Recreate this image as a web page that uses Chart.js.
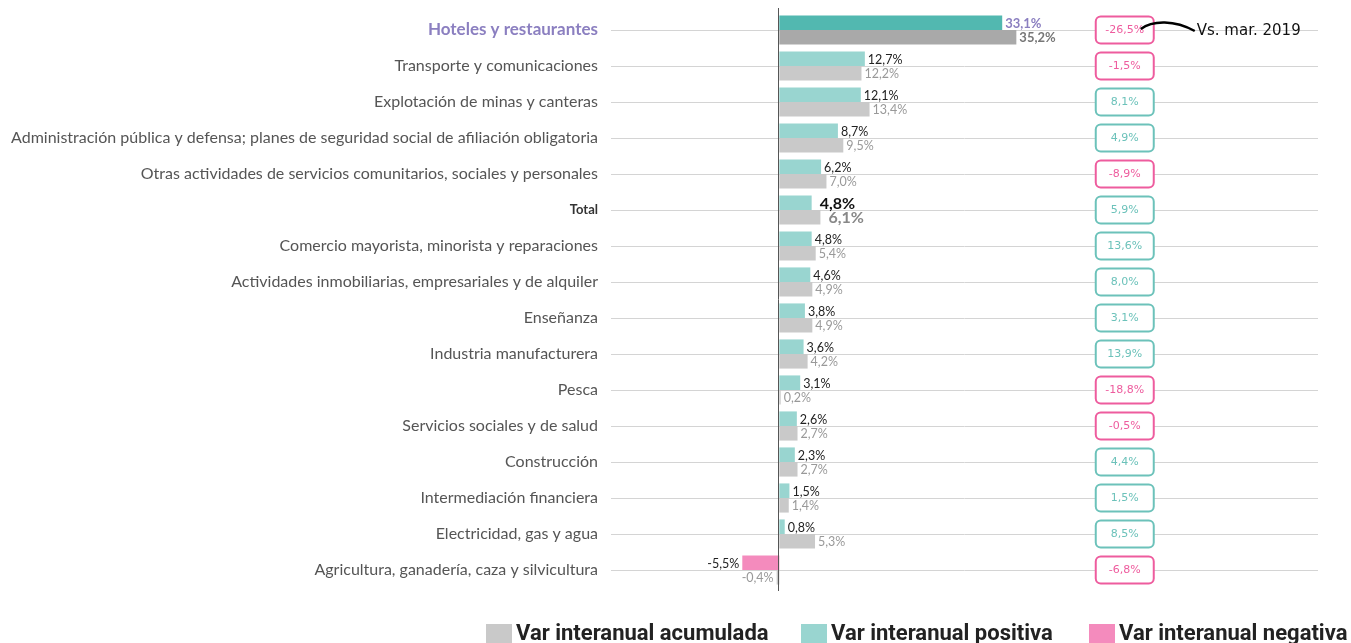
<!DOCTYPE html>
<html>
<head>
<meta charset="utf-8">
<script src="https://cdn.jsdelivr.net/npm/chart.js@4"></script>
<style>
  html, body { margin: 0; padding: 0; background: #fff; overflow: hidden; }
  #wrap { width: 1351px; height: 643px; }
</style>
</head>
<body>
<div id="wrap"><canvas id="chart"></canvas></div>
<script>
// data
const categories = [
  'Hoteles y restaurantes',
  'Transporte y comunicaciones',
  'Explotación de minas y canteras',
  'Administración pública y defensa; planes de seguridad social de afiliación obligatoria',
  'Otras actividades de servicios comunitarios, sociales y personales',
  'Total',
  'Comercio mayorista, minorista y reparaciones',
  'Actividades inmobiliarias, empresariales y de alquiler',
  'Enseñanza',
  'Industria manufacturera',
  'Pesca',
  'Servicios sociales y de salud',
  'Construcción',
  'Intermediación financiera',
  'Electricidad, gas y agua',
  'Agricultura, ganadería, caza y silvicultura'
];
const varInteranual = [33.1, 12.7, 12.1, 8.7, 6.2, 4.8, 4.8, 4.6, 3.8, 3.6, 3.1, 2.6, 2.3, 1.5, 0.8, -5.5];
const varAcumulada = [35.2, 12.2, 13.4, 9.5, 7.0, 6.1, 5.4, 4.9, 4.9, 4.2, 0.2, 2.7, 2.7, 1.4, 5.3, -0.4];
const vsMar2019 = [-26.5, -1.5, 8.1, 4.9, -8.9, 5.9, 13.6, 8.0, 3.1, 13.9, -18.8, -0.5, 4.4, 1.5, 8.5, -6.8];
const legendLabels = ['Var interanual acumulada', 'Var interanual positiva', 'Var interanual negativa'];
const annotationText = 'Vs. mar. 2019';

const TEAL = '#99d5d0', TEAL_DARK = '#52b8b0', GRAY = '#c9c9c9', GRAY_DARK = '#a9a9a9', PINK = '#f48bbd';
const BADGE_PINK = '#ee5c9e', BADGE_TEAL = '#6cc2ba';
const HIGHLIGHT = 0, TOTAL = 5;

const fmt = v => v.toFixed(1).replace('.', ',') + '%';

const labelsPlugin = {
  id: 'valueLabels',
  afterDatasetsDraw(chart) {
    const ctx = chart.ctx;
    ctx.save();
    ctx.textBaseline = 'middle';
    chart.data.datasets.forEach((ds, di) => {
      chart.getDatasetMeta(di).data.forEach((bar, i) => {
        const v = ds.data[i];
        let font = '12.5px Lato', color = di === 0 ? '#222' : '#999', gap = 3;
        if (i === HIGHLIGHT) { font = 'bold 13px Lato'; color = di === 0 ? '#8b7fc0' : '#777'; }
        if (i === TOTAL) { font = 'bold 16px Lato'; color = di === 0 ? '#111' : '#888'; gap = 8; }
        ctx.font = font;
        ctx.fillStyle = color;
        if (v >= 0) { ctx.textAlign = 'left'; ctx.fillText(fmt(v), bar.x + gap, bar.y + 1); }
        else { ctx.textAlign = 'right'; ctx.fillText(fmt(v), bar.x - gap, bar.y + 1); }
      });
    });
    ctx.restore();
  },
  afterDraw(chart) {
    const ctx = chart.ctx, x = chart.scales.x, y = chart.scales.y, area = chart.chartArea;
    ctx.save();
    // zero line
    const x0 = Math.round(x.getPixelForValue(0)) - 0.5;
    ctx.strokeStyle = '#555';
    ctx.lineWidth = 1;
    ctx.beginPath(); ctx.moveTo(x0, area.top - 4); ctx.lineTo(x0, area.bottom + 3); ctx.stroke();

    // badges vs mar 2019
    const bx = x.getPixelForValue(51.3);
    ctx.font = '11px "DejaVu Sans"';
    ctx.textAlign = 'center';
    ctx.textBaseline = 'middle';
    vsMar2019.forEach((v, i) => {
      const cy = y.getPixelForValue(i);
      const col = v < 0 ? BADGE_PINK : BADGE_TEAL;
      const w = 58, h = 27;
      ctx.beginPath();
      ctx.roundRect(bx - w / 2, cy - h / 2, w, h, 5);
      ctx.fillStyle = '#fff';
      ctx.fill();
      ctx.lineWidth = 2;
      ctx.strokeStyle = col;
      ctx.stroke();
      ctx.fillStyle = col;
      ctx.fillText(fmt(v), bx, cy + 0.5);
    });

    // annotation
    const ay = y.getPixelForValue(0);
    ctx.strokeStyle = '#000';
    ctx.lineWidth = 2.5;
    ctx.beginPath();
    ctx.moveTo(bx + 16, ay - 1);
    ctx.bezierCurveTo(bx + 28, ay - 10, bx + 50, ay - 10, bx + 70, ay + 1);
    ctx.stroke();
    ctx.fillStyle = '#111';
    ctx.font = '15px "DejaVu Sans"';
    ctx.textAlign = 'left';
    ctx.fillText(annotationText, bx + 72, ay + 1);

    // legend
    const legendColors = [GRAY, TEAL, PINK];
    const legendX = [486, 801, 1089];
    ctx.font = 'bold 22px Roboto';
    ctx.textBaseline = 'middle';
    legendLabels.forEach((t, i) => {
      ctx.fillStyle = legendColors[i];
      ctx.fillRect(legendX[i], 624, 26, 19);
      ctx.fillStyle = '#222';
      ctx.fillText(t, legendX[i] + 30, 634);
    });
    ctx.restore();
  }
};

new Chart(document.getElementById('chart'), {
  type: 'bar',
  data: {
    labels: categories,
    datasets: [
      {
        label: 'Var interanual',
        data: varInteranual,
        backgroundColor: varInteranual.map((v, i) => i === HIGHLIGHT ? TEAL_DARK : (v < 0 ? PINK : TEAL))
      },
      {
        label: 'Var interanual acumulada',
        data: varAcumulada,
        backgroundColor: varAcumulada.map((v, i) => i === HIGHLIGHT ? GRAY_DARK : GRAY)
      }
    ]
  },
  options: {
    indexAxis: 'y',
    responsive: true,
    maintainAspectRatio: false,
    animation: false,
    layout: { padding: { top: 12, bottom: 55, right: 33, left: 0 } },
    datasets: { bar: { barPercentage: 1, categoryPercentage: 0.81 } },
    plugins: { legend: { display: false }, tooltip: { enabled: false } },
    scales: {
      x: { display: false, min: -25, max: 80 },
      y: {
        afterFit: s => { s.width = 611; s.paddingTop = 0; s.paddingBottom = 0; },
        grid: { offset: false, color: '#d4d4d4', drawTicks: false },
        border: { display: false },
        ticks: {
          padding: 13,
          color: c => c.index === HIGHLIGHT ? '#8b7fc0' : (c.index === TOTAL ? '#333' : '#555'),
          font: c => c.index === HIGHLIGHT ? { family: 'Lato', size: 17, weight: 'bold' }
            : (c.index === TOTAL ? { family: 'Lato', size: 13, weight: 'bold' } : { family: 'Lato', size: 16 })
        }
      }
    }
  },
  plugins: [labelsPlugin]
});
</script>
</body>
</html>
